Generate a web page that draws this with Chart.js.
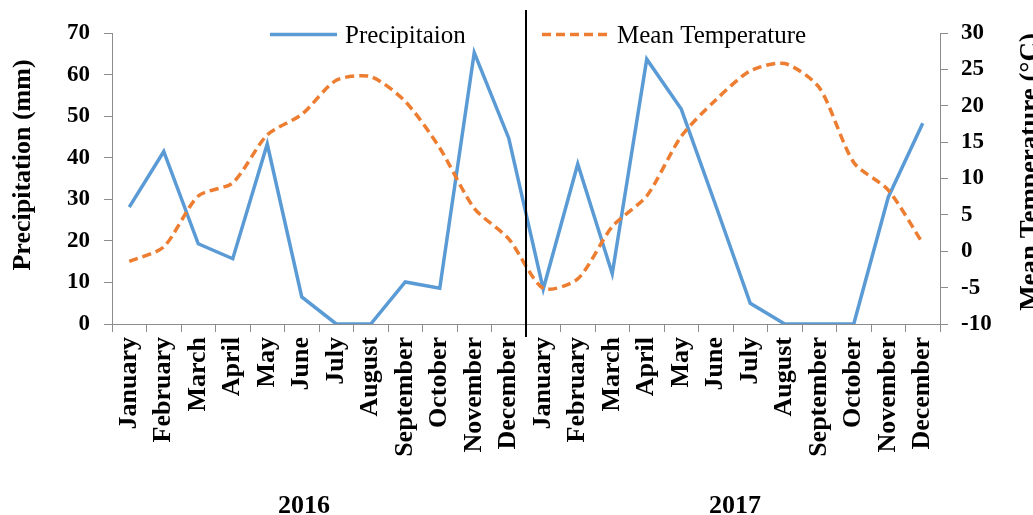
<!DOCTYPE html>
<html>
<head>
<meta charset="utf-8">
<script src="https://cdn.jsdelivr.net/npm/chart.js@4.4.1/dist/chart.umd.min.js"></script>
<style>
  html, body { margin: 0; padding: 0; background: #fff; overflow: hidden; }
  #chart { display: block; }
</style>
</head>
<body>
<canvas id="chart" width="1033" height="515"></canvas>
<script>
const months = [
  "January", "February", "March", "April", "May", "June",
  "July", "August", "September", "October", "November", "December",
  "January", "February", "March", "April", "May", "June",
  "July", "August", "September", "October", "November", "December"
];
const years = ["2016", "2017"];

const precipitation = [28.1, 41.5, 19.3, 15.7, 43.3, 6.5, 0, 0, 10.1, 8.6, 65.3, 44.7,
                       8.4, 38.5, 12.1, 63.7, 51.7, 28.5, 5.0, 0, 0, 0, 30.5, 48.3];
const temperature = [-1.4, 0.6, 7.6, 9.4, 16.0, 18.8, 23.5, 24.0, 20.6, 14.2, 5.9, 1.7,
                     -5.1, -3.8, 3.4, 7.6, 15.8, 20.8, 24.8, 25.8, 22.5, 12.2, 8.4, 1.1];

const precipTicks = [0, 10, 20, 30, 40, 50, 60, 70];
const tempTicks = [-10, -5, 0, 5, 10, 15, 20, 25, 30];

const leftTitle = 'Precipitation (mm)';
const rightTitle = 'Mean Temperature (°C)';

const serif = "'Liberation Serif', 'Times New Roman', serif";
const axisGrey = '#8c8c8c';

// axis titles, year labels, the divider between the two years and the legend
const extras = {
  id: 'extras',
  afterDraw(chart) {
    const ctx = chart.ctx;
    const x = chart.scales.x;
    const area = chart.chartArea;
    ctx.save();

    // divider line between December and January
    const divX = (x.getPixelForValue(11) + x.getPixelForValue(12)) / 2;
    ctx.strokeStyle = '#000';
    ctx.lineWidth = 2;
    ctx.beginPath();
    ctx.moveTo(divX, 10);
    ctx.lineTo(divX, area.bottom + 13);
    ctx.stroke();

    ctx.fillStyle = '#000';

    // axis titles, both reading bottom to top
    ctx.font = 'bold 26px ' + serif;
    ctx.textAlign = 'center';
    ctx.textBaseline = 'alphabetic';
    ctx.save();
    ctx.translate(30, 165);
    ctx.rotate(-Math.PI / 2);
    ctx.fillText(leftTitle, 0, 0);
    ctx.restore();
    ctx.save();
    ctx.font = 'bold 27px ' + serif;
    ctx.translate(1038, 172);
    ctx.rotate(-Math.PI / 2);
    ctx.fillText(rightTitle, 0, 0);
    ctx.restore();

    // years
    ctx.font = 'bold 26px ' + serif;
    const yearShift = [-15, 2];
    years.forEach((yr, i) => {
      const a = x.getPixelForValue(i * 12);
      const b = x.getPixelForValue(i * 12 + 11);
      ctx.fillText(yr, (a + b) / 2 + yearShift[i], 513);
    });

    // legend
    ctx.font = '25px ' + serif;
    ctx.textAlign = 'left';
    const legendPos = [270, 542];
    chart.data.datasets.forEach((ds, i) => {
      const lx = legendPos[i];
      ctx.strokeStyle = ds.borderColor;
      ctx.lineWidth = ds.borderWidth;
      ctx.setLineDash(ds.borderDash || []);
      ctx.beginPath();
      ctx.moveTo(lx, 34.5);
      ctx.lineTo(lx + 67, 34.5);
      ctx.stroke();
      ctx.setLineDash([]);
      ctx.fillStyle = '#000';
      ctx.fillText(ds.label, lx + 75, 43);
    });
    ctx.restore();
  }
};

new Chart(document.getElementById('chart'), {
  type: 'line',
  data: {
    labels: months,
    datasets: [
      {
        label: 'Precipitaion',
        data: precipitation,
        yAxisID: 'y',
        borderColor: '#5b9bd5',
        borderWidth: 3.5,
        pointRadius: 0,
        tension: 0,
        order: 1
      },
      {
        label: 'Mean Temperature',
        data: temperature,
        yAxisID: 'y1',
        borderColor: '#ed7d31',
        borderWidth: 3.5,
        borderDash: [9, 5],
        pointRadius: 0,
        tension: 0.25,
        order: 0
      }
    ]
  },
  options: {
    responsive: false,
    animation: false,
    layout: { padding: { top: 33, left: 0, right: 0, bottom: 0 } },
    plugins: {
      legend: { display: false },
      tooltip: { enabled: false }
    },
    scales: {
      x: {
        offset: true,
        grid: { offset: true, drawOnChartArea: false, tickLength: 8, tickColor: axisGrey },
        border: { color: axisGrey },
        ticks: {
          autoSkip: false,
          minRotation: 90,
          maxRotation: 90,
          padding: 5,
          color: '#000',
          font: { family: serif, size: 26, weight: 'bold' }
        },
        afterFit(scale) { scale.height = 191; }
      },
      y: {
        position: 'left',
        min: 0,
        max: 70,
        afterBuildTicks(scale) { scale.ticks = precipTicks.map(v => ({ value: v })); },
        grid: { drawOnChartArea: false, tickLength: 8, tickColor: axisGrey },
        border: { color: axisGrey },
        ticks: {
          padding: 14,
          color: '#000',
          font: { family: serif, size: 23, weight: 'bold' }
        },
        afterFit(scale) { scale.width = 112; }
      },
      y1: {
        position: 'right',
        min: -10,
        max: 30,
        afterBuildTicks(scale) { scale.ticks = tempTicks.map(v => ({ value: v })); },
        grid: { drawOnChartArea: false, tickLength: 8, tickColor: axisGrey },
        border: { color: axisGrey },
        ticks: {
          padding: 13,
          color: '#000',
          font: { family: serif, size: 23, weight: 'bold' }
        },
        afterFit(scale) { scale.width = 93; }
      }
    }
  },
  plugins: [extras]
});
</script>
</body>
</html>
